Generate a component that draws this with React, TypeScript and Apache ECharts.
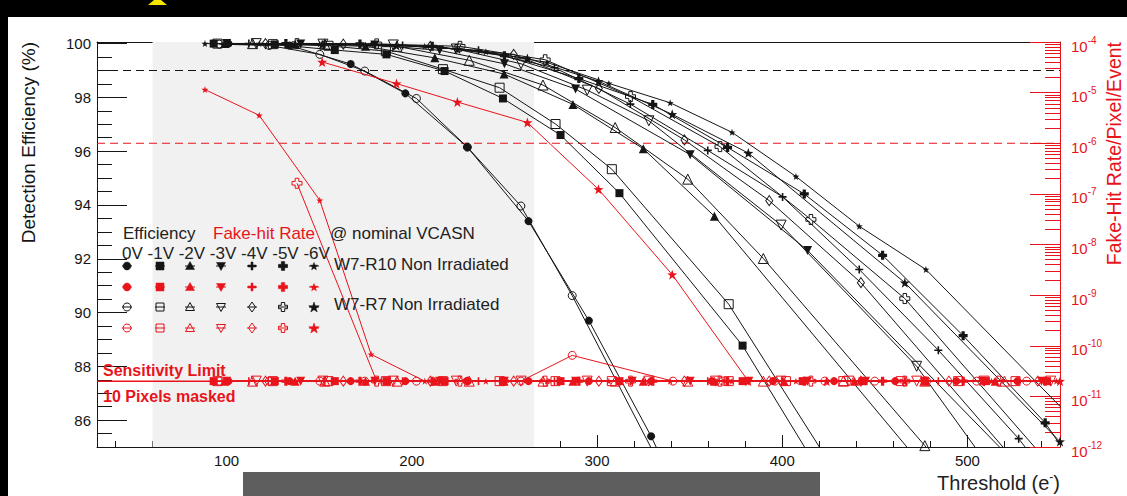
import React, { useEffect, useRef } from 'react';
import * as echarts from 'echarts';

const FONT = '"Liberation Sans", Arial, Helvetica, sans-serif';
const BLACK = '#151515';
const RED = '#e8141c';
const L = 2e-11; // sensitivity limit, 10 pixels masked

// axes
const xMin = 30;
const xMax = 550;
const xMajor = [100, 200, 300, 400, 500];
const xMinor = [40, 60, 80, 120, 140, 160, 180, 220, 240, 260, 280, 320, 340, 360, 380, 420, 440, 460, 480, 520, 540];
const effMin = 85;
const effMax = 100.06;
const effMajor = [86, 88, 90, 92, 94, 96, 98, 100];
const effMinor = [85.5, 86.5, 87, 87.5, 88.5, 89, 89.5, 90.5, 91, 91.5, 92.5, 93, 93.5, 94.5, 95, 95.5, 96.5, 97, 97.5, 98.5, 99, 99.5];
const rateMin = 1e-12;
const rateMax = 1e-4;
const decades = [-12, -11, -10, -9, -8, -7, -6, -5];
const minorMult = [2, 3, 4, 5, 6, 7, 8, 9];

// reference lines and shaded band
const effRef = 99;
const rateRef = 1e-6;
const shadeFrom = 60;
const shadeTo = 266;

// ---- W7-R10 (filled markers) ----
const thrR10_0V = [101, 134, 167, 196.5, 230, 263, 295.6, 329.2, 362, 395, 428, 461, 494, 527];
const effR10_0V = [100, 99.93, 99.24, 98.15, 96.15, 93.4, 89.7, 85.4, 80.6];
const fhrR10_0V = [L, L, L, L, L, L, L, L, L, L, L, L, L, L];

const thrR10_1V = [93, 126, 158.4, 186.3, 217.7, 249.2, 280.3, 312.1, 378.6, 411, 444, 477, 510, 543];
const effR10_1V = [100, 99.97, 99.76, 99.6, 98.98, 97.96, 96.6, 94.44, 88.77, null, 81.4];
const fhrR10_1V = [L, L, L, L, L, L, L, L, L, L, L, L, L, L];

const thrR10_2V = [99, 137, 175, 212.4, 249.8, 287, 325, 363.4, 401, 439, 477, 515];
const effR10_2V = [100, 99.98, 99.9, 99.47, 98.87, 97.74, 96.09, 93.58, null, null, 84.2];
const fhrR10_2V = [L, L, L, L, L, L, L, L, L, L, L, L];

const thrR10_3V = [100, 140, 180, 215, 250, 288.4, 319, 350.3, 382, 413.7, 445, 477, 508, 540];
const effR10_3V = [100, 99.99, 99.95, 99.75, 99.25, 98.31, null, 95.87, null, 92.31, null, null, null, 83.4];
const fhrR10_3V = [L, L, L, L, L, L, L, L, L, L, L, L, L, L];

const thrR10_4V = [112, 153, 195, 236, 277, 318, 359.8, 400.2, 441.6, 484.3, 527.7, 570];
const effR10_4V = [100, 99.99, 99.93, 99.75, 99.1, 97.75, 96.03, 94.3, 91.6, 88.6, 85.31, 81.5];
const fhrR10_4V = [L, L, L, L, L, L, L, L, L, L, L, null];

const thrR10_5V = [132, 172, 211, 250, 290.2, 330.1, 370.5, 411.9, 454.2, 497.7, 542, 590];
const effR10_5V = [100, 99.99, 99.9, 99.55, 98.7, 97.74, 96.14, 94.41, 92.13, 89.14, 85.9, 81];
const fhrR10_5V = [L, L, L, L, L, L, L, L, L, L, L, null];

const thrR10_6V = [88.3, 117.6, 150.3, 178, 207, 240, 273, 306.4, 339.5, 372.9, 407.4, 441.6, 477.6, 513, 548, 600];
const effR10_6V = [100, 100, 99.99, 99.97, 99.9, 99.7, 99.3, 98.52, 97.8, 96.7, 95.06, 93.21, 91.6, null, null, 83];
const fhrR10_6V = [1.15e-5, 3.56e-6, 7.46e-8, 6.76e-11, L, L, L, L, L, L, L, L, L, L, L, null];

// ---- W7-R7 (open markers) ----
const thrR7_0V = [96, 123, 150.3, 174.6, 202.5, 230, 258.9, 286.6, 341, 368, 396, 423, 450, 478, 505, 532];
const effR7_0V = [99.98, 99.93, 99.6, 98.98, 97.96, 96.15, 93.96, 90.63, 83.4];
const fhrR7_0V = [L, L, L, L, L, L, L, 6.46e-11, L, L, L, L, L, L, L, L];

const thrR7_1V = [95, 125, 155, 186, 216.8, 247.4, 277.6, 308, 371.1, 402, 433, 464, 495, 526];
const effR7_1V = [100, 99.98, 99.92, 99.72, 99.05, 98.36, 97.01, 95.33, 90.31, null, 83.6];
const fhrR7_1V = [L, L, L, L, L, L, L, L, L, L, L, L, L, L];

const thrR7_2V = [114, 153, 192, 231, 270.8, 309.8, 349, 389.8, 433, 477, 520];
const effR7_2V = [100, 99.98, 99.9, 99.38, 98.46, 96.88, 94.96, 92.01, null, 85.05, 81.4];
const fhrR7_2V = [L, L, L, L, L, L, L, L, L, L, L];

const thrR7_3V = [116, 152, 190, 224, 259, 294.7, 328, 364, 399.4, 436, 472.6, 509, 545];
const effR7_3V = [100, 99.98, 99.95, 99.8, 99.25, 98.27, 97.13, null, 93.25, null, 88.0, null, 81.1];
const fhrR7_3V = [L, L, L, L, L, L, L, L, L, L, L, L, L];

const thrR7_4V = [121, 163, 210, 255, 301, 347.2, 393, 442.5, 490, 538];
const effR7_4V = [100, 99.98, 99.9, 99.6, 98.33, 96.42, 94.16, 91.11, null, 83.5];
const fhrR7_4V = [L, L, L, L, L, L, L, L, L, L];

const thrR7_5V = [138, 181, 226, 272, 318.1, 366.4, 415.5, 466.2, 517, 568];
const effR7_5V = [100, 99.99, 99.9, 99.4, 98.03, 96.17, 93.46, 90.52, null, 82.5];
const fhrR7_5V = [1.62e-7, L, L, L, L, L, L, L, L, null];

const thrR7_6V = [151.6, 191.7, 224.6, 262.4, 300.8, 340.6, 381.7, 424, 466.2, 508, 550];
const effR7_6V = [99.98, 99.93, 99.8, 99.45, 98.6, 97.37, 95.93, null, 91.11, null, 85.2];
const fhrR7_6V = [4.03e-5, 1.51e-5, 6.53e-6, 2.57e-6, 1.23e-7, 2.54e-9, L, L, L, L, L];

// legend text
const biasLabels = '0V -1V -2V -3V -4V -5V -6V';

const SYM: Record<string, string> = {
  circle: 'circle',
  square: 'rect',
  triUp: 'triangle',
  triDown: 'path://M0,0L10,0L5,9Z',
  plus: 'path://M4,0H6V4H10V6H6V10H4V6H0V4H4Z',
  cross: 'path://M3.2,0H6.8V3.2H10V6.8H6.8V10H3.2V6.8H0V3.2H3.2Z',
  star: 'path://M5,0L6.18,3.38L9.76,3.45L6.9,5.62L7.94,9.05L5,7L2.06,9.05L3.1,5.62L0.24,3.45L3.82,3.38Z',
  diamond: 'path://M5,0L10,7L5,14L0,7Z',
};

type Meta = { thr: number[]; eff: (number | null)[]; fhr: (number | null)[]; symbol: string; size: any; open: boolean };

const SERIES: Meta[] = [
  { thr: thrR10_0V, eff: effR10_0V, fhr: fhrR10_0V, symbol: SYM.circle, size: 8, open: false },
  { thr: thrR10_1V, eff: effR10_1V, fhr: fhrR10_1V, symbol: SYM.square, size: 8, open: false },
  { thr: thrR10_2V, eff: effR10_2V, fhr: fhrR10_2V, symbol: SYM.triUp, size: 9, open: false },
  { thr: thrR10_3V, eff: effR10_3V, fhr: fhrR10_3V, symbol: SYM.triDown, size: 9, open: false },
  { thr: thrR10_4V, eff: effR10_4V, fhr: fhrR10_4V, symbol: SYM.plus, size: 8, open: false },
  { thr: thrR10_5V, eff: effR10_5V, fhr: fhrR10_5V, symbol: SYM.cross, size: 9, open: false },
  { thr: thrR10_6V, eff: effR10_6V, fhr: fhrR10_6V, symbol: SYM.star, size: 7, open: false },
  { thr: thrR7_0V, eff: effR7_0V, fhr: fhrR7_0V, symbol: SYM.circle, size: 8, open: true },
  { thr: thrR7_1V, eff: effR7_1V, fhr: fhrR7_1V, symbol: SYM.square, size: 9, open: true },
  { thr: thrR7_2V, eff: effR7_2V, fhr: fhrR7_2V, symbol: SYM.triUp, size: 10, open: true },
  { thr: thrR7_3V, eff: effR7_3V, fhr: fhrR7_3V, symbol: SYM.triDown, size: 10, open: true },
  { thr: thrR7_4V, eff: effR7_4V, fhr: fhrR7_4V, symbol: SYM.diamond, size: [7, 10], open: true },
  { thr: thrR7_5V, eff: effR7_5V, fhr: fhrR7_5V, symbol: SYM.cross, size: 10, open: true },
  { thr: thrR7_6V, eff: effR7_6V, fhr: fhrR7_6V, symbol: SYM.star, size: 10, open: false },
];

function seriesFor(m: Meta, kind: 'eff' | 'fhr') {
  const color = kind === 'eff' ? BLACK : RED;
  const vals = kind === 'eff' ? m.eff : m.fhr;
  const data = m.thr.map((t, i) => [t, vals[i]]).filter((p) => p[1] !== null && p[1] !== undefined);
  return {
    type: 'line',
    xAxisIndex: 0,
    yAxisIndex: kind === 'eff' ? 0 : 2,
    data,
    symbol: m.symbol,
    symbolSize: m.size,
    showSymbol: true,
    showAllSymbol: true,
    clip: true,
    silent: true,
    z: kind === 'eff' ? 3 : 4,
    lineStyle: { color, width: 1 },
    itemStyle: m.open
      ? { color: 'rgba(255,255,255,0)', borderColor: color, borderWidth: 1 }
      : { color, borderWidth: 0 },
    emphasis: { disabled: true },
  };
}

function starPoints(cx: number, cy: number, R: number, r: number) {
  const pts: number[][] = [];
  for (let i = 0; i < 10; i++) {
    const a = -Math.PI / 2 + (i * Math.PI) / 5;
    const rr = i % 2 === 0 ? R : r;
    pts.push([cx + rr * Math.cos(a), cy + rr * Math.sin(a)]);
  }
  return pts;
}
function crossPoints(cx: number, cy: number, s: number, w: number) {
  const h = s / 2;
  const k = w / 2;
  return [
    [cx - k, cy - h], [cx + k, cy - h], [cx + k, cy - k], [cx + h, cy - k], [cx + h, cy + k], [cx + k, cy + k],
    [cx + k, cy + h], [cx - k, cy + h], [cx - k, cy + k], [cx - h, cy + k], [cx - h, cy - k], [cx - k, cy - k],
  ];
}

function legendMarker(kind: string, cx: number, cy: number, color: string, open: boolean): any[] {
  const style = open ? { fill: 'none', stroke: color, lineWidth: 1 } : { fill: color, stroke: color, lineWidth: 0.5 };
  const out: any[] = [
    { type: 'line', z: 100, shape: { x1: cx - 5, y1: cy, x2: cx + 5, y2: cy }, style: { stroke: color, lineWidth: 1 } },
  ];
  let el: any;
  switch (kind) {
    case 'circle': el = { type: 'circle', shape: { cx, cy, r: 4 } }; break;
    case 'square': el = { type: 'rect', shape: { x: cx - 4, y: cy - 4, width: 8, height: 8 } }; break;
    case 'triUp': el = { type: 'polygon', shape: { points: [[cx, cy - 4.5], [cx + 4.5, cy + 3.5], [cx - 4.5, cy + 3.5]] } }; break;
    case 'triDown': el = { type: 'polygon', shape: { points: [[cx - 4.5, cy - 3.5], [cx + 4.5, cy - 3.5], [cx, cy + 4.5]] } }; break;
    case 'plus': el = { type: 'polygon', shape: { points: crossPoints(cx, cy, 8, 2) } }; break;
    case 'cross': el = { type: 'polygon', shape: { points: crossPoints(cx, cy, 9, 3.4) } }; break;
    case 'diamond': el = { type: 'polygon', shape: { points: [[cx, cy - 5], [cx + 3.5, cy], [cx, cy + 5], [cx - 3.5, cy]] } }; break;
    case 'starSmall': el = { type: 'polygon', shape: { points: starPoints(cx, cy + 0.5, 4, 1.7) } }; break;
    case 'star': el = { type: 'polygon', shape: { points: starPoints(cx, cy + 0.5, 5.5, 2.2) } }; break;
  }
  el.style = kind === 'star' ? { fill: color, stroke: color, lineWidth: 0.5 } : style;
  el.z = 101;
  out.push(el);
  return out;
}

function buildOption() {
  const legendCols = [127, 160, 190, 221, 252, 283, 314];
  const legendRows = [266, 287, 307, 328];
  const filledKinds = ['circle', 'square', 'triUp', 'triDown', 'plus', 'cross', 'starSmall'];
  const openKinds = ['circle', 'square', 'triUp', 'triDown', 'diamond', 'cross', 'star'];
  const graphics: any[] = [];
  // frame of the screenshot
  graphics.push({ type: 'rect', z: 100, shape: { x: 0, y: 0, width: 1127, height: 17 }, style: { fill: '#000' } });
  graphics.push({ type: 'rect', z: 100, shape: { x: 0, y: 0, width: 8, height: 496 }, style: { fill: '#000' } });
  graphics.push({ type: 'polygon', z: 101, shape: { points: [[148, 5], [167, 5], [161, 0], [154, 0]] }, style: { fill: '#f5e400' } });
  graphics.push({ type: 'rect', z: 100, shape: { x: 243, y: 472, width: 577, height: 24 }, style: { fill: '#5e5e5e' } });

  // axis titles
  graphics.push({
    type: 'text', z: 100, x: 28, y: 42, rotation: Math.PI / 2,
    style: { text: 'Detection Efficiency (%)', fontSize: 19, fontFamily: FONT, fill: BLACK, align: 'right', verticalAlign: 'middle' },
  });
  graphics.push({
    type: 'text', z: 100, x: 1114, y: 42, rotation: Math.PI / 2,
    style: { text: 'Fake-Hit Rate/Pixel/Event', fontSize: 19.5, fontFamily: FONT, fill: RED, align: 'right', verticalAlign: 'middle' },
  });
  graphics.push({
    type: 'text', z: 100, x: 1060, y: 483,
    style: {
      text: '{n|Threshold (e}{s|-}{n|)}', align: 'right', verticalAlign: 'middle',
      rich: {
        n: { fontSize: 20, fontFamily: FONT, fill: '#222', lineHeight: 24, verticalAlign: 'middle' },
        s: { fontSize: 12, fontFamily: FONT, fill: '#222', lineHeight: 12, verticalAlign: 'top' },
      },
    },
  });

  // legend texts
  const txt = (text: string, x: number, y: number, color: string, size: number, bold = false) => ({
    type: 'text', z: 102, x, y,
    style: { text, fontSize: size, fontFamily: FONT, fontWeight: bold ? 'bold' : 'normal', fill: color, align: 'left', verticalAlign: 'middle' },
  });
  graphics.push(txt('Efficiency', 123, 233, '#222', 17));
  graphics.push(txt('Fake-hit Rate', 213, 233, RED, 17));
  graphics.push(txt('@ nominal VCASN', 330, 233, '#222', 17));
  graphics.push(txt(biasLabels, 122, 253, '#222', 17));
  graphics.push(txt('W7-R10 Non Irradiated', 334, 264, '#222', 17));
  graphics.push(txt('W7-R7 Non Irradiated', 334, 304, '#222', 17));
  graphics.push(txt('Sensitivity Limit', 103, 370, RED, 16, true));
  graphics.push(txt('10 Pixels masked', 103, 396, RED, 16, true));

  legendCols.forEach((cx, i) => {
    graphics.push(...legendMarker(filledKinds[i], cx, legendRows[0], BLACK, false));
    graphics.push(...legendMarker(filledKinds[i], cx, legendRows[1], RED, false));
    graphics.push(...legendMarker(openKinds[i], cx, legendRows[2], BLACK, true));
    graphics.push(...legendMarker(openKinds[i], cx, legendRows[3], RED, true));
  });

  const rateMinorLog: number[] = [];
  decades.forEach((d) => minorMult.forEach((k) => rateMinorLog.push(d + Math.log10(k))));

  const series: any[] = [
    {
      type: 'line', xAxisIndex: 0, yAxisIndex: 0, data: [[xMin, effMin]], symbol: 'none', silent: true, z: 1,
      lineStyle: { width: 0 },
      markArea: { silent: true, itemStyle: { color: '#f1f1f1' }, label: { show: false }, data: [[{ xAxis: shadeFrom }, { xAxis: shadeTo }]] },
    },
    {
      type: 'line', xAxisIndex: 0, yAxisIndex: 0, data: [[xMin, effRef], [xMax, effRef]], symbol: 'none', silent: true, z: 2,
      lineStyle: { color: BLACK, width: 1, type: [8, 5] },
    },
    {
      type: 'line', xAxisIndex: 0, yAxisIndex: 2, data: [[xMin, rateRef], [xMax, rateRef]], symbol: 'none', silent: true, z: 2,
      lineStyle: { color: RED, width: 1, type: [8, 5] },
    },
  ];
  SERIES.forEach((m) => series.push(seriesFor(m, 'eff')));
  SERIES.forEach((m) => series.push(seriesFor(m, 'fhr')));
  series.push({
    type: 'line', xAxisIndex: 0, yAxisIndex: 2, data: [[xMin, L], [xMax, L]], symbol: 'none', silent: true, z: 5,
    lineStyle: { color: RED, width: 1.5 },
  });

  return {
    animation: false,
    backgroundColor: '#ffffff',
    grid: { left: 97, right: 67, top: 42, bottom: 49, show: false },
    xAxis: [
      {
        type: 'value', min: xMin, max: xMax, position: 'bottom',
        axisLine: { show: true, onZero: false, lineStyle: { color: BLACK, width: 1 } },
        axisTick: { show: true, inside: true, length: 12, customValues: xMajor, lineStyle: { color: BLACK, width: 1 } },
        axisLabel: { show: true, customValues: xMajor, margin: 6, color: BLACK, fontSize: 15, fontFamily: FONT },
        splitLine: { show: false },
      },
      {
        type: 'value', min: xMin, max: xMax, position: 'bottom',
        axisLine: { show: false, onZero: false },
        axisTick: { show: true, inside: true, length: 6, customValues: xMinor, lineStyle: { color: BLACK, width: 1 } },
        axisLabel: { show: false },
        splitLine: { show: false },
      },
      {
        type: 'value', min: xMin, max: xMax, position: 'top',
        axisLine: { show: true, onZero: false, lineStyle: { color: BLACK, width: 1 } },
        axisTick: { show: false }, axisLabel: { show: false }, splitLine: { show: false },
      },
    ],
    yAxis: [
      {
        type: 'value', min: effMin, max: effMax, position: 'left',
        axisLine: { show: true, onZero: false, lineStyle: { color: BLACK, width: 1 } },
        axisTick: { show: true, inside: true, length: 30, customValues: effMajor, lineStyle: { color: BLACK, width: 1 } },
        axisLabel: { show: true, customValues: effMajor, margin: 6, color: BLACK, fontSize: 15, fontFamily: FONT },
        splitLine: { show: false },
      },
      {
        type: 'value', min: effMin, max: effMax, position: 'left',
        axisLine: { show: false, onZero: false },
        axisTick: { show: true, inside: true, length: 15, customValues: effMinor, lineStyle: { color: BLACK, width: 1 } },
        axisLabel: { show: false }, splitLine: { show: false },
      },
      {
        type: 'log', logBase: 10, min: rateMin, max: rateMax, position: 'right', splitNumber: 8,
        axisLine: { show: true, onZero: false, lineStyle: { color: RED, width: 1 } },
        axisTick: { show: true, inside: true, length: 30, lineStyle: { color: RED, width: 1 } },
        axisLabel: {
          show: true, margin: 11, padding: [8, 0, 0, 0],
          formatter: (v: number) => `{b|10}{s|${Math.round(Math.log10(v))}}`,
          rich: {
            b: { fontSize: 15, fontFamily: FONT, color: RED, lineHeight: 22, verticalAlign: 'middle' },
            s: { fontSize: 10, fontFamily: FONT, color: RED, lineHeight: 10, verticalAlign: 'top' },
          },
        },
        splitLine: { show: false },
      },
      {
        type: 'value', min: -12, max: -4, position: 'right',
        axisLine: { show: false, onZero: false },
        axisTick: { show: true, inside: true, length: 15, customValues: rateMinorLog, lineStyle: { color: RED, width: 1 } },
        axisLabel: { show: false }, splitLine: { show: false },
      },
    ],
    series,
    graphic: { elements: graphics },
  };
}

export default function App() {
  const ref = useRef<HTMLDivElement>(null);
  useEffect(() => {
    document.body.style.margin = '0';
    const chart = echarts.init(ref.current as HTMLDivElement, null, { renderer: 'svg' });
    chart.setOption(buildOption() as any);
    return () => chart.dispose();
  }, []);
  return <div ref={ref} style={{ position: 'absolute', left: 0, top: 0, width: 1127, height: 496 }} />;
}
